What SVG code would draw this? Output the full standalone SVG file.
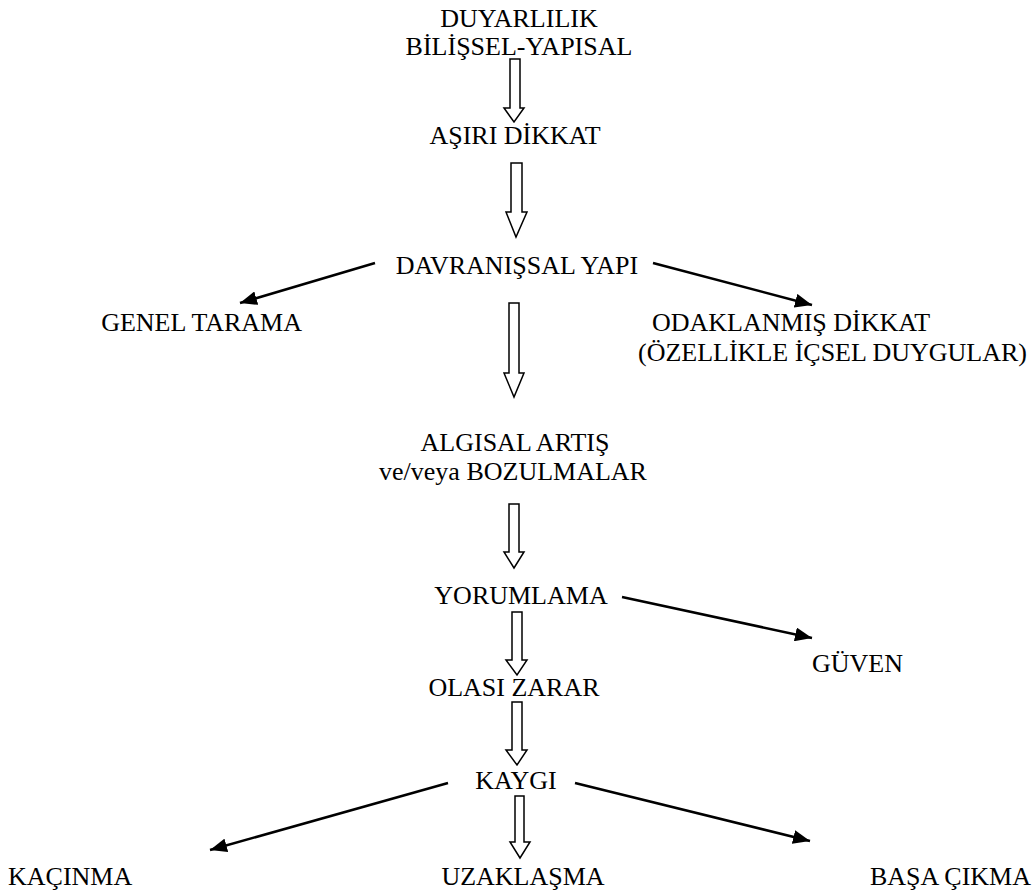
<svg xmlns="http://www.w3.org/2000/svg" width="1035" height="895" viewBox="0 0 1035 895">
<style>
text{font-family:"Liberation Serif","Times New Roman",serif;font-size:26px;fill:#000;text-anchor:middle}
text.l{text-anchor:start}
text.r{text-anchor:end}
.hollow{fill:#fff;stroke:#000;stroke-width:1.5;stroke-linejoin:miter}
.solid{stroke:#000;stroke-width:2.5;fill:none}
</style>
<defs>
<marker id="ah" markerUnits="userSpaceOnUse" markerWidth="18" markerHeight="14" refX="17" refY="7" orient="auto">
<path d="M0,0 L17,7 L0,14 z" fill="#000"/>
</marker>
</defs>
<rect width="1035" height="895" fill="#fff"/>
<g id="n1"><text x="519" y="27">DUYARLILIK</text><text x="519" y="55">BİLİŞSEL-YAPISAL</text></g>
<g id="n2"><text x="515" y="144">AŞIRI DİKKAT</text></g>
<g id="n3"><text x="517" y="274">DAVRANIŞSAL YAPI</text></g>
<g id="n4"><text class="r" x="302" y="331">GENEL TARAMA</text></g>
<g id="n5"><text class="l" x="652" y="331">ODAKLANMIŞ DİKKAT</text><text class="l" x="638" y="361">(ÖZELLİKLE İÇSEL DUYGULAR)</text></g>
<g id="n6"><text x="515" y="451">ALGISAL ARTIŞ</text><text x="513" y="480">ve/veya BOZULMALAR</text></g>
<g id="n7"><text x="521" y="604">YORUMLAMA</text></g>
<g id="n8"><text class="l" x="812" y="672">GÜVEN</text></g>
<g id="n9"><text x="514" y="696">OLASI ZARAR</text></g>
<g id="n10"><text x="516" y="789">KAYGI</text></g>
<g id="n11"><text class="l" x="8" y="885">KAÇINMA</text></g>
<g id="n12"><text x="523" y="885">UZAKLAŞMA</text></g>
<g id="n13"><text class="r" x="1031" y="885">BAŞA ÇIKMA</text></g>
<g id="connectors">
<polygon class="hollow" points="510,59 520,59 520,108 524,108 514,122 504,108 510,108"/>
<polygon class="hollow" points="511,163 522,163 522,212 527,212 516,237 506,212 511,212"/>
<polygon class="hollow" points="509,303 519,303 519,373 524,373 514,397 504,373 509,373"/>
<polygon class="hollow" points="509,504 519,504 519,552 524,552 514,568 504,552 509,552"/>
<polygon class="hollow" points="512,612 522,612 522,660 527,660 517,675 506,660 512,660"/>
<polygon class="hollow" points="512,702 522,702 522,750 527,750 517,765 506,750 512,750"/>
<polygon class="hollow" points="515,796 524,796 524,842 530,842 520,858 510,842 515,842"/>
<line class="solid" x1="375" y1="263" x2="240" y2="303" marker-end="url(#ah)"/>
<line class="solid" x1="653" y1="263" x2="812" y2="305" marker-end="url(#ah)"/>
<line class="solid" x1="622" y1="597" x2="812" y2="638" marker-end="url(#ah)"/>
<line class="solid" x1="448" y1="783" x2="210" y2="850" marker-end="url(#ah)"/>
<line class="solid" x1="575" y1="783" x2="810" y2="841" marker-end="url(#ah)"/>
</g>
</svg>
